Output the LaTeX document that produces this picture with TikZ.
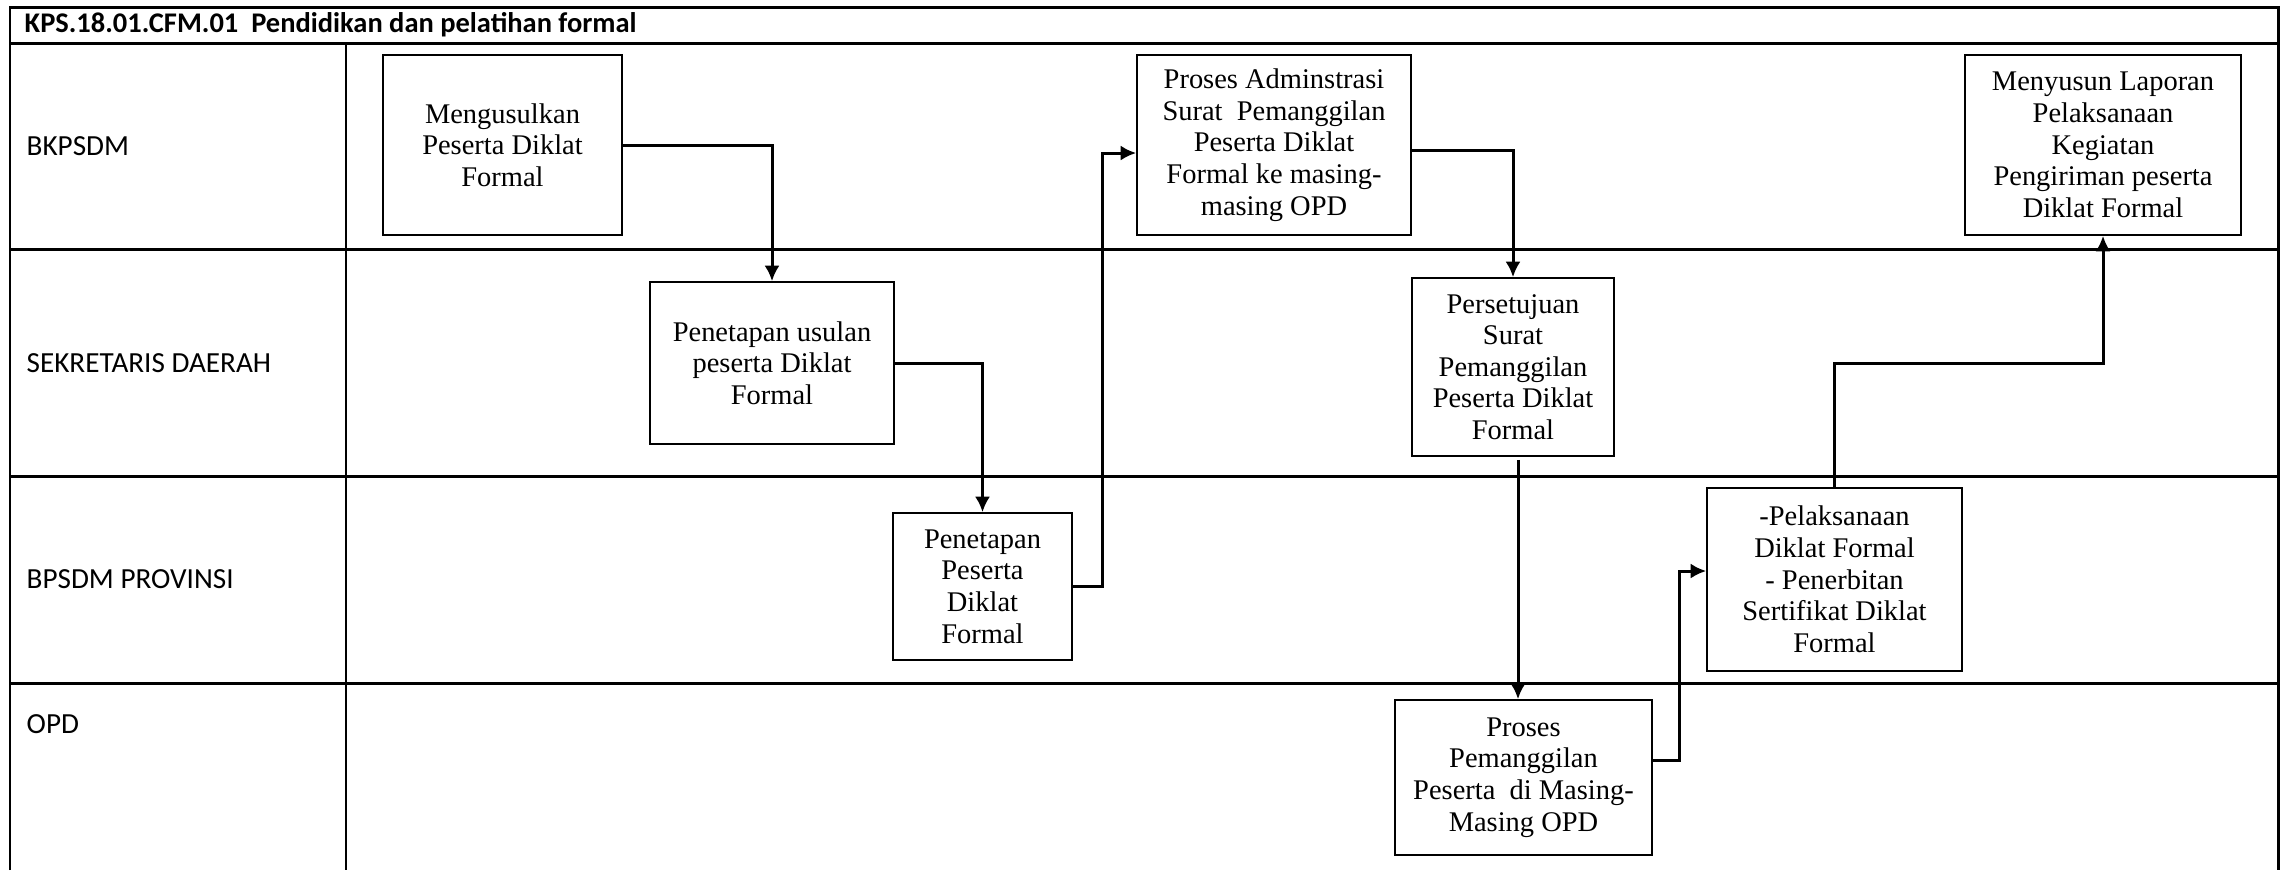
\documentclass[tikz,border=0pt]{standalone}
\usepackage{fontspec}
\setmainfont{Liberation Serif}
\newfontfamily\lanefont{Carlito}
\usepackage{xcolor}
\usepackage{tikz}
\usetikzlibrary{arrows.meta, positioning}

\begin{document}
\begin{tikzpicture}[x=0.1mm, y=-0.1mm]
    % Define styles
    \tikzstyle{proses} = [rectangle, draw=black, line width=0.5pt, inner sep=0pt, align=center, font=\fontsize{8.1}{9}\selectfont]
    \tikzstyle{lane} = [line width=0.85pt]
    \tikzstyle{lanelabel} = [anchor=west, inner sep=0pt, font=\lanefont\fontsize{8.3}{10}\selectfont]
    \tikzstyle{arrow} = [line width=0.85pt, ->, >={Latex[length=4.4pt,width=4.3pt]}]

    \useasboundingbox (0,0) rectangle (2284,870);

    % Lanes
    \draw[lane] (10,870) -- (10,7) -- (2278,7) -- (2278,870);
    \foreach \y in {43,249,476,683} \draw[lane] (10,\y) -- (2278,\y);
    \draw[lane] (346,43) -- (346,870);

    \node[anchor=west, inner sep=0pt, font=\lanefont\bfseries\fontsize{8.1}{10}\selectfont] (judul) at (24,25) {KPS.18.01.CFM.01\ \ Pendidikan dan pelatihan formal};
    \node[lanelabel] (bkpsdm) at (26,146) {BKPSDM};
    \node[lanelabel] (sekda) at (26,363) {SEKRETARIS DAERAH};
    \node[lanelabel] (bpsdm) at (26,579) {BPSDM PROVINSI};
    \node[lanelabel] (opd) at (26,724) {OPD};

    % Nodes
    \node[proses, minimum width=23.9mm, minimum height=18mm] (usul) at (502.5,145) {Mengusulkan\\Peserta Diklat\\Formal};
    \node[proses, minimum width=24.4mm, minimum height=16.2mm] (tetapusul) at (772,363) {Penetapan usulan\\peserta Diklat\\Formal};
    \node[proses, minimum width=17.9mm, minimum height=14.7mm] (tetappeserta) at (982.5,586.5) {Penetapan\\Peserta\\Diklat\\Formal};
    \node[proses, minimum width=27.4mm, minimum height=18mm] (admin) at (1274,145) {Proses Adminstrasi\\Surat\ \ Pemanggilan\\Peserta Diklat\\Formal ke masing-\\masing OPD};
    \node[proses, minimum width=20.2mm, minimum height=17.8mm] (setuju) at (1513,367) {Persetujuan\\Surat\\Pemanggilan\\Peserta Diklat\\Formal};
    \node[proses, minimum width=25.7mm, minimum height=15.5mm] (panggil) at (1523.5,777.5) {Proses\\Pemanggilan\\Peserta\ \ di Masing-\\Masing OPD};
    \node[proses, minimum width=25.5mm, minimum height=18.3mm] (laksana) at (1834.5,579.5) {-Pelaksanaan\\Diklat Formal\\- Penerbitan\\Sertifikat Diklat\\Formal};
    \node[proses, minimum width=27.6mm, minimum height=18mm] (laporan) at (2103,145) {Menyusun Laporan\\Pelaksanaan\\Kegiatan\\Pengiriman peserta\\Diklat Formal};

    % Arrows
    \coordinate (belok1) at (1102,153);
    \coordinate (belok2) at (1679,571);
    \coordinate (belok3) at (2103,363);
    \draw[arrow] (usul.east) -| (tetapusul.north);
    \draw[arrow] (tetapusul.east) -| (tetappeserta.north);
    \draw[arrow] (tetappeserta.east) -| (belok1) -- (belok1 -| admin.west);
    \draw[arrow] ([yshift=-0.5mm]admin.east) -| (setuju.north);
    \draw[arrow] ([xshift=0.5mm,yshift=-0.3mm]setuju.south) -- ([xshift=0.5mm]setuju.south |- panggil.north);
    \draw[arrow] ([yshift=1.75mm]panggil.east) -| (belok2) -- (belok2 -| laksana.west);
    \draw[arrow] (laksana.north) |- (belok3) -- (laporan.south);
\end{tikzpicture}
\end{document}
